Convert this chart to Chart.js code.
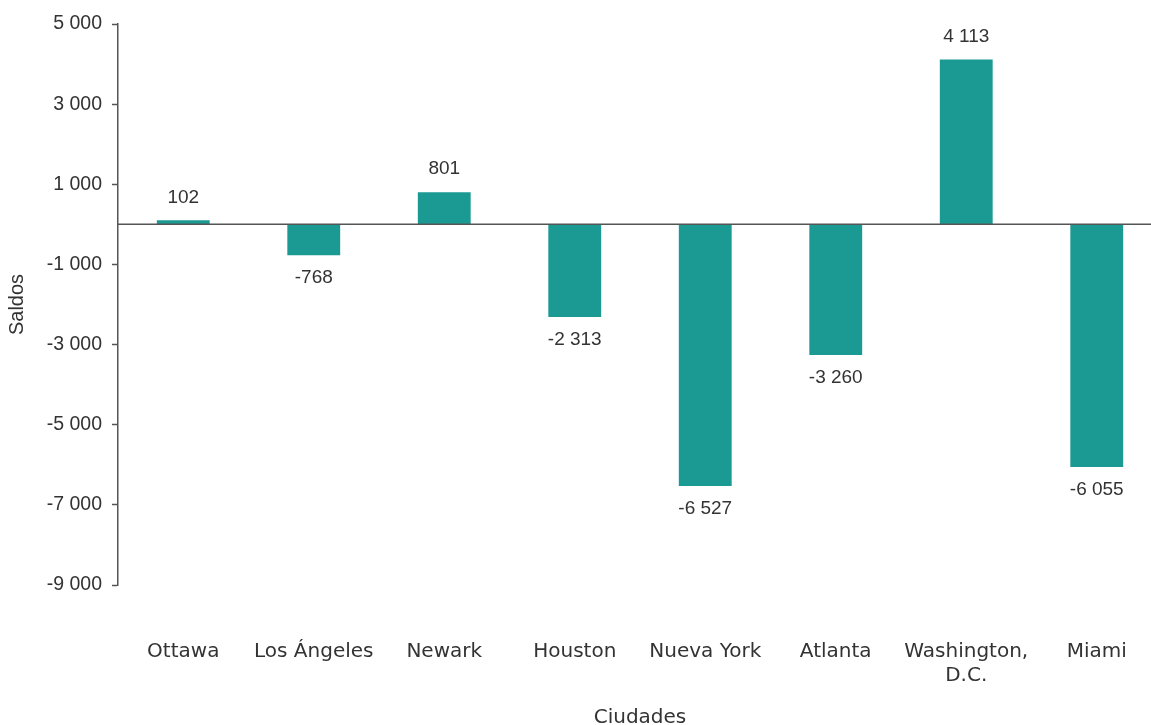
<!DOCTYPE html>
<html lang="es">
<head>
    <meta charset="UTF-8">
    <title>Saldos por ciudad</title>
    <script src="https://cdn.jsdelivr.net/npm/chart.js"></script>
    <style>
        body {
            margin: 0;
            padding: 0;
            background: #ffffff;
            overflow: hidden;
        }

        .contenedor {
            width: 1162px;
            height: 730px;
        }
    </style>
</head>
<body>

    <div class="contenedor">
        <canvas id="graficoSaldos"></canvas>
    </div>

    <script>
        const ciudades = ['Ottawa', 'Los Ángeles', 'Newark', 'Houston', 'Nueva York', 'Atlanta', ['Washington,', 'D.C.'], 'Miami'];
        const saldos = [102, -768, 801, -2313, -6527, -3260, 4113, -6055];
        const ejeMin = -9000;
        const ejeMax = 5000;
        const paso = 2000;

        function formato(n) {
            const signo = n < 0 ? '-' : '';
            return signo + String(Math.abs(n)).replace(/\B(?=(\d{3})+(?!\d))/g, ' ');
        }

        // linea del cero y etiquetas de valores
        const extras = {
            id: 'extras',
            afterDatasetsDraw(chart) {
                const ctx = chart.ctx;
                const y0 = chart.scales.y.getPixelForValue(0);
                ctx.save();
                ctx.strokeStyle = '#555555';
                ctx.lineWidth = 1.5;
                ctx.beginPath();
                ctx.moveTo(chart.chartArea.left, y0);
                ctx.lineTo(chart.width, y0);
                ctx.stroke();

                ctx.fillStyle = '#333333';
                ctx.font = '19px "Liberation Sans", Arial, sans-serif';
                ctx.textAlign = 'center';
                ctx.textBaseline = 'middle';
                chart.getDatasetMeta(0).data.forEach((bar, i) => {
                    const v = saldos[i];
                    const y = v >= 0 ? bar.y - 23 : bar.y + 23;
                    ctx.fillText(formato(v), bar.x, y);
                });
                ctx.restore();
            }
        };

        const ctx = document.getElementById('graficoSaldos').getContext('2d');
        new Chart(ctx, {
            type: 'bar',
            data: {
                labels: ciudades,
                datasets: [{
                    label: 'Saldos',
                    data: saldos,
                    backgroundColor: '#1b9a94',
                    barPercentage: 0.405,
                    categoryPercentage: 1
                }]
            },
            plugins: [extras],
            options: {
                responsive: true,
                maintainAspectRatio: false,
                animation: false,
                layout: {
                    padding: { top: 24, right: 0, bottom: 0, left: 0 }
                },
                plugins: {
                    legend: { display: false },
                    tooltip: { enabled: false }
                },
                scales: {
                    x: {
                        afterFit(scale) { scale.height = 145; },
                        grid: {
                            display: true,
                            drawOnChartArea: false,
                            drawTicks: true,
                            tickLength: 55,
                            color: 'transparent',
                            tickColor: 'transparent'
                        },
                        border: { display: false },
                        ticks: {
                            color: '#333333',
                            padding: 0,
                            maxRotation: 0,
                            autoSkip: false,
                            font: { family: '"DejaVu Sans", sans-serif', size: 20 }
                        },
                        title: {
                            display: true,
                            text: 'Ciudades',
                            color: '#333333',
                            padding: { top: 0, bottom: 0 },
                            font: { family: '"DejaVu Sans", sans-serif', size: 20 }
                        }
                    },
                    y: {
                        min: ejeMin,
                        max: ejeMax,
                        afterFit(scale) { scale.width = 118; },
                        grid: {
                            drawOnChartArea: false,
                            drawTicks: true,
                            tickLength: 6,
                            tickColor: '#555555',
                            tickWidth: 1.5
                        },
                        border: { color: '#555555', width: 1.5 },
                        ticks: {
                            stepSize: paso,
                            color: '#333333',
                            padding: 10,
                            font: { family: '"Liberation Sans", Arial, sans-serif', size: 19.5 },
                            callback: v => formato(v)
                        },
                        title: {
                            display: true,
                            text: 'Saldos',
                            color: '#333333',
                            padding: { top: 5, bottom: 0 },
                            font: { family: '"Liberation Sans", Arial, sans-serif', size: 20 }
                        }
                    }
                }
            }
        });
    </script>
</body>
</html>
